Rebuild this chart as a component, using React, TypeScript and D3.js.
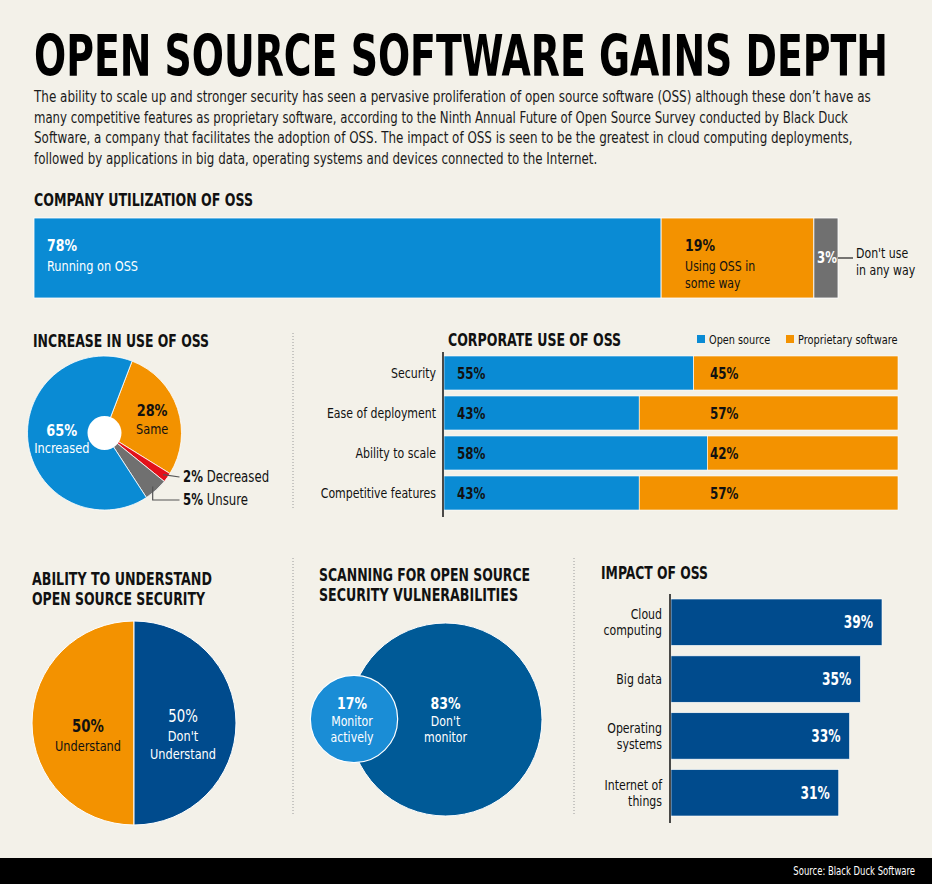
import React, { useLayoutEffect, useRef, useState } from 'react';
import * as d3 from 'd3';

// ---- data ----
const utilLabels = ['Running on OSS', 'Using OSS in some way', "Don't use in any way"];
const utilValues = [78, 19, 3];

const increaseLabels = ['Same', 'Decreased', 'Unsure', 'Increased'];
const increaseValues = [28, 2, 5, 65];

const corpCategories = ['Security', 'Ease of deployment', 'Ability to scale', 'Competitive features'];
const corpOpen = [55, 43, 58, 43];
const corpProp = [45, 57, 42, 57];

const understandLabels = ['Understand', "Don't Understand"];
const understandValues = [50, 50];

const scanLabels = ['Monitor actively', "Don't monitor"];
const scanValues = [17, 83];

const impactCategories = ['Cloud computing', 'Big data', 'Operating systems', 'Internet of things'];
const impactValues = [39, 35, 33, 31];

const paragraph = [
  'The ability to scale up and stronger security has seen a pervasive proliferation of open source software (OSS) although these don\u2019t have as',
  'many competitive features as proprietary software, according to the Ninth Annual Future of Open Source Survey conducted by Black Duck',
  'Software, a company that facilitates the adoption of OSS. The impact of OSS is seen to be the greatest in cloud computing deployments,',
  'followed by applications in big data, operating systems and devices connected to the Internet.',
];
const paraWidths = [837, 814, 818, 563];

const FONT = '"DejaVu Sans Condensed", "Liberation Sans Narrow", "Roboto Condensed", Roboto, sans-serif';
const BG = '#f3f1e9';
const BLUE = '#0a8bd4';
const ORANGE = '#f39200';
const GRAY = '#707070';
const RED = '#e3111b';
const NAVY = '#004b8d';
const DEEP = '#005a97';
const SX = 0.87; // horizontal squeeze to mimic the narrow newspaper face

const W = 932;
const H = 884;

function T({ x, y, children, size = 14, weight = 400, fill = '#111', anchor = 'start', sx = SX }: any) {
  return (
    <text transform={`translate(${x},${y}) scale(${sx},1)`} fontSize={size} fontWeight={weight} fill={fill}
      textAnchor={anchor} fontFamily={FONT}>
      {children}
    </text>
  );
}

// text squeezed to a given width (measured once, then scaled)
function Fit({ x, y, width, children, size = 14, weight = 400, fill = '#111' }: any) {
  const ref = useRef<SVGTextElement>(null);
  const [s, setS] = useState(SX);
  useLayoutEffect(() => {
    if (!ref.current) return;
    const len = ref.current.getComputedTextLength();
    if (len > 0) setS(width / len);
  }, [width, children]);
  return (
    <text ref={ref} transform={`translate(${x},${y}) scale(${s},1)`} fontSize={size} fontWeight={weight}
      fill={fill} fontFamily={FONT}>
      {children}
    </text>
  );
}

function Heading({ x, y, lines, widths }: any) {
  return (
    <g>
      {lines.map((l: string, i: number) => (
        <Fit key={i} x={x} y={y + i * 20} size={17} weight={700} width={widths[i]}>
          {l}
        </Fit>
      ))}
    </g>
  );
}

export default function App() {
  // company utilization stacked bar
  const ux = d3.scaleLinear().domain([0, 100]).range([34, 838]);
  const uStarts = utilValues.map((_, i) => d3.sum(utilValues.slice(0, i)));
  const utilColors = [BLUE, ORANGE, GRAY];

  // increase pie
  const p1c = { x: 104.5, y: 433 };
  const off = (21 * Math.PI) / 180;
  const pie1 = d3.pie<number>().sort(null).startAngle(off).endAngle(off + 2 * Math.PI)(increaseValues);
  const arc1 = d3.arc<any>().innerRadius(0).outerRadius(77);
  const lab1 = d3.arc<any>().innerRadius(46).outerRadius(46);
  const edge1 = d3.arc<any>().innerRadius(72).outerRadius(72);
  const incColors = [ORANGE, RED, GRAY, BLUE];

  // corporate use
  const cx = d3.scaleLinear().domain([0, 100]).range([444, 898]);
  const cy = d3.scaleBand().domain(corpCategories).range([356, 510]).paddingInner(0.15);

  // understand pie
  const p2c = { x: 134, y: 723 };
  const pie2 = d3.pie<number>().sort(null).startAngle(Math.PI).endAngle(3 * Math.PI)(understandValues);
  const arc2 = d3.arc<any>().innerRadius(0).outerRadius(102);

  // scanning bubbles
  const rs = d3.scaleSqrt().domain([0, 83]).range([0, 96.5]);
  const rBig = rs(scanValues[1]);
  const rSmall = rs(scanValues[0]);
  const bigC = { x: 542 - rBig, y: 719.5 };
  const smallC = { x: bigC.x - rBig + 5, y: 719 };

  // impact bars
  const ix = d3.scaleLinear().domain([0, 39]).range([671, 882]);
  const iy = d3.scaleBand().domain(impactCategories).range([599, 816]).paddingInner(0.184);

  const splitTwo = (s: string, at: number) => {
    const w = s.split(' ');
    return [w.slice(0, at).join(' '), w.slice(at).join(' ')];
  };

  const [rx, ry] = edge1.centroid(pie1[1]);
  const [gx, gy] = edge1.centroid(pie1[2]);

  return (
    <svg width={W} height={H} style={{ position: 'absolute', left: 0, top: 0, background: BG }}>
      <rect width={W} height={H} fill={BG} />

      {/* title + intro */}
      <Fit x={34} y={76} size={57} weight={700} fill="#000" width={854}>
        OPEN SOURCE SOFTWARE GAINS DEPTH
      </Fit>
      {paragraph.map((l, i) => (
        <Fit key={i} x={34} y={102 + i * 20.5} size={15} fill="#1a1a1a" width={paraWidths[i]}>
          {l}
        </Fit>
      ))}

      {/* company utilization */}
      <Heading x={34} y={206} lines={['COMPANY UTILIZATION OF OSS']} widths={[219]} />
      {utilValues.map((v, i) => (
        <rect key={i} x={ux(uStarts[i])} y={218} width={ux(uStarts[i] + v) - ux(uStarts[i])} height={80}
          fill={utilColors[i]} stroke="#fff" strokeWidth={0.8} />
      ))}
      <T x={ux(0) + 13} y={251} size={16} weight={700} fill="#fff">{utilValues[0]}%</T>
      <T x={ux(0) + 13} y={271} size={14.5} fill="#fff">{utilLabels[0]}</T>
      <T x={ux(uStarts[1]) + 24} y={251} size={16} weight={700} fill="#111">{utilValues[1]}%</T>
      <T x={ux(uStarts[1]) + 24} y={271} size={14} fill="#111">{splitTwo(utilLabels[1], 3)[0]}</T>
      <T x={ux(uStarts[1]) + 24} y={288} size={14} fill="#111">{splitTwo(utilLabels[1], 3)[1]}</T>
      <T x={(ux(uStarts[2]) + ux(100)) / 2 + 1} y={263} size={15} weight={700} fill="#fff" anchor="middle">
        {utilValues[2]}%
      </T>
      <line x1={ux(100)} x2={ux(100) + 15} y1={258} y2={258} stroke="#222" strokeWidth={1.2} />
      <T x={856} y={257.5} size={14}>{splitTwo(utilLabels[2], 2)[0]}</T>
      <T x={856} y={274.5} size={14}>{splitTwo(utilLabels[2], 2)[1]}</T>

      {/* dotted separators */}
      <line x1={293} x2={293} y1={333} y2={510} stroke="#9a9a9a" strokeDasharray="1,2" />
      <line x1={293} x2={293} y1={558} y2={815} stroke="#9a9a9a" strokeDasharray="1,2" />
      <line x1={574} x2={574} y1={558} y2={815} stroke="#9a9a9a" strokeDasharray="1,2" />

      {/* increase pie */}
      <Heading x={33} y={347} lines={['INCREASE IN USE OF OSS']} widths={[176]} />
      <g transform={`translate(${p1c.x},${p1c.y})`}>
        {pie1.map((d, i) => (
          <path key={i} d={arc1(d) as string} fill={incColors[i]} stroke="#fff" strokeWidth={0.8} />
        ))}
        <circle r={17} fill="#fff" />
        {[0, 3].map((i) => {
          const [lx, ly] = lab1.centroid(pie1[i]);
          const dark = i === 0;
          const px = lx + (dark ? 4 : 3);
          return (
            <g key={i}>
              <T x={px} y={ly - 2} size={16.5} weight={700} fill={dark ? '#111' : '#fff'} anchor="middle">
                {increaseValues[i]}%
              </T>
              <T x={px} y={ly + 15.5} size={14.5} fill={dark ? '#111' : '#fff'} anchor="middle">
                {increaseLabels[i]}
              </T>
            </g>
          );
        })}
        <line x1={rx} y1={ry} x2={75} y2={44} stroke="#555" strokeWidth={1.2} />
        <polyline points={`${gx},${gy} ${gx},${67} ${75},${67}`} fill="none" stroke="#555" strokeWidth={1.2} />
      </g>
      <g transform={`translate(183,482) scale(${SX},1)`}>
        <text fontFamily={FONT} fontSize={15} fill="#111">
          <tspan fontWeight={700}>{increaseValues[1]}%</tspan> {increaseLabels[1]}
        </text>
      </g>
      <g transform={`translate(183,505) scale(${SX},1)`}>
        <text fontFamily={FONT} fontSize={15} fill="#111">
          <tspan fontWeight={700}>{increaseValues[2]}%</tspan> {increaseLabels[2]}
        </text>
      </g>

      {/* corporate use */}
      <Heading x={448} y={346} lines={['CORPORATE USE OF OSS']} widths={[173]} />
      <rect x={697} y={335} width={8} height={8} fill={BLUE} />
      <T x={709} y={344} size={13} sx={0.83}>Open source</T>
      <rect x={786} y={335} width={8} height={8} fill={ORANGE} />
      <T x={798} y={344} size={13} sx={0.84}>Proprietary software</T>
      {corpCategories.map((c, i) => {
        const y = cy(c) as number;
        const bw = cy.bandwidth();
        return (
          <g key={c}>
            <rect x={cx(0)} y={y} width={cx(corpOpen[i]) - cx(0)} height={bw} fill={BLUE} stroke="#fff" strokeWidth={0.6} />
            <rect x={cx(corpOpen[i])} y={y} width={cx(corpOpen[i] + corpProp[i]) - cx(corpOpen[i])} height={bw}
              fill={ORANGE} stroke="#fff" strokeWidth={0.6} />
            <T x={436} y={y + bw / 2 + 5} size={14} anchor="end">{c}</T>
            <T x={457} y={y + bw / 2 + 6} size={16.5} weight={700} sx={0.8}>{corpOpen[i]}%</T>
            <T x={710} y={y + bw / 2 + 6} size={16.5} weight={700} sx={0.8}>{corpProp[i]}%</T>
          </g>
        );
      })}
      <line x1={443} x2={443} y1={352} y2={517} stroke="#111" strokeWidth={1.5} />

      {/* understand pie */}
      <Heading x={32} y={585} lines={['ABILITY TO UNDERSTAND', 'OPEN SOURCE SECURITY']} widths={[180, 173]} />
      <g transform={`translate(${p2c.x},${p2c.y})`}>
        {pie2.map((d, i) => (
          <path key={i} d={arc2(d) as string} fill={i === 0 ? ORANGE : NAVY} stroke="#fff" strokeWidth={1} />
        ))}
      </g>
      <T x={88} y={732} size={17} weight={700} anchor="middle">{understandValues[0]}%</T>
      <T x={88} y={751} size={14.5} anchor="middle">{understandLabels[0]}</T>
      <T x={183} y={722} size={17} fill="#fff" anchor="middle">{understandValues[1]}%</T>
      <T x={183} y={741} size={14.5} fill="#fff" anchor="middle">{splitTwo(understandLabels[1], 1)[0]}</T>
      <T x={183} y={758.5} size={14.5} fill="#fff" anchor="middle">{splitTwo(understandLabels[1], 1)[1]}</T>

      {/* scanning bubbles */}
      <Heading x={319} y={581} lines={['SCANNING FOR OPEN SOURCE', 'SECURITY VULNERABILITIES']} widths={[211, 199]} />
      <circle cx={bigC.x} cy={bigC.y} r={rBig} fill={DEEP} stroke="#fff" strokeWidth={1} />
      <circle cx={smallC.x} cy={smallC.y} r={rSmall} fill="#1a8dd6" stroke="#fff" strokeWidth={1.2} />
      <T x={smallC.x - 2} y={708.5} size={16} weight={700} fill="#fff" anchor="middle">{scanValues[0]}%</T>
      <T x={smallC.x - 2} y={725.5} size={14} fill="#fff" anchor="middle">{splitTwo(scanLabels[0], 1)[0]}</T>
      <T x={smallC.x - 2} y={742} size={14} fill="#fff" anchor="middle">{splitTwo(scanLabels[0], 1)[1]}</T>
      <T x={bigC.x} y={708.5} size={16} weight={700} fill="#fff" anchor="middle">{scanValues[1]}%</T>
      <T x={bigC.x} y={725.5} size={14} fill="#fff" anchor="middle">{splitTwo(scanLabels[1], 1)[0]}</T>
      <T x={bigC.x} y={742} size={14} fill="#fff" anchor="middle">{splitTwo(scanLabels[1], 1)[1]}</T>

      {/* impact bars */}
      <Heading x={601} y={579} lines={['IMPACT OF OSS']} widths={[107]} />
      {impactCategories.map((c, i) => {
        const y = iy(c) as number;
        const bw = iy.bandwidth();
        const lines = c === 'Big data' ? [c] : c === 'Internet of things' ? ['Internet of', 'things'] : c.split(' ');
        return (
          <g key={c}>
            <rect x={ix(0)} y={y} width={ix(impactValues[i]) - ix(0)} height={bw} fill={NAVY} stroke="#fff" strokeWidth={0.6} />
            <T x={ix(impactValues[i]) - 9} y={y + bw / 2 + 6} size={17} weight={700} fill="#fff" anchor="end" sx={0.8}>
              {impactValues[i]}%
            </T>
            {lines.map((l, j) => (
              <T key={j} x={662} y={y + bw / 2 + 5 + (j - (lines.length - 1) / 2) * 16.5} size={14} anchor="end">
                {l}
              </T>
            ))}
          </g>
        );
      })}
      <line x1={670} x2={670} y1={594} y2={823} stroke="#111" strokeWidth={1.5} />

      {/* footer */}
      <rect x={0} y={858} width={W} height={H - 858} fill="#000" />
      <T x={915} y={875} size={11.5} fill="#fff" anchor="end" sx={0.82}>Source: Black Duck Software</T>
    </svg>
  );
}
